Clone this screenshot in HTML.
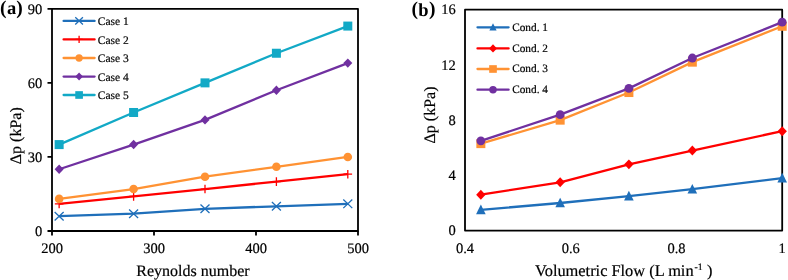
<!DOCTYPE html><html><head><meta charset="utf-8"><style>html,body{margin:0;padding:0;background:#fff;width:788px;height:280px;overflow:hidden}svg{display:block;will-change:transform}text{text-rendering:geometricPrecision;stroke:#000;stroke-width:0.2px;font-family:"Liberation Serif",serif;fill:#000}</style></head><body>
<svg width="788" height="280" viewBox="0 0 788 280">
<path d="M52.0 8.8H358.0V231.0H52.0Z" fill="none" stroke="#000" stroke-width="1.8" stroke-linejoin="round"/>
<path d="M47.5 231.00H52.0M47.5 156.93H52.0M47.5 82.87H52.0M47.5 8.80H52.0M52.00 231.0V235.5M154.00 231.0V235.5M256.00 231.0V235.5M358.00 231.0V235.5" stroke="#000" stroke-width="1.8" fill="none"/>
<text x="42.3" y="235.78" font-size="14.5" text-anchor="end">0</text>
<text x="42.3" y="161.72" font-size="14.5" text-anchor="end">30</text>
<text x="42.3" y="87.65" font-size="14.5" text-anchor="end">60</text>
<text x="42.3" y="13.59" font-size="14.5" text-anchor="end">90</text>
<text x="52.00" y="253" font-size="14.5" text-anchor="middle">200</text>
<text x="154.00" y="253" font-size="14.5" text-anchor="middle">300</text>
<text x="256.00" y="253" font-size="14.5" text-anchor="middle">400</text>
<text x="358.00" y="253" font-size="14.5" text-anchor="middle">500</text>
<text x="193" y="276" font-size="16" text-anchor="middle">Reynolds number</text>
<text transform="translate(20.5 135.7) rotate(-90)" font-size="16" text-anchor="middle">Δp (kPa)</text>
<text y="14.2" font-weight="bold" stroke-width="0" style="stroke:none"><tspan x="0" font-size="19.5">(</tspan><tspan x="7.0" font-size="18.5">a</tspan><tspan x="16.2" font-size="19.5">)</tspan></text>
<polyline points="59.14,216.19 133.60,213.72 205.00,208.78 276.40,206.31 347.80,203.84" fill="none" stroke="#1f6fba" stroke-width="2.3" stroke-linejoin="round"/>
<path d="M54.64 211.91L63.64 220.46M54.64 220.46L63.64 211.91" stroke="#1f6fba" stroke-width="1.3" fill="none"/>
<path d="M129.10 209.44L138.10 217.99M129.10 217.99L138.10 209.44" stroke="#1f6fba" stroke-width="1.3" fill="none"/>
<path d="M200.50 204.50L209.50 213.06M200.50 213.06L209.50 204.50" stroke="#1f6fba" stroke-width="1.3" fill="none"/>
<path d="M271.90 202.04L280.90 210.59M271.90 210.59L280.90 202.04" stroke="#1f6fba" stroke-width="1.3" fill="none"/>
<path d="M343.30 199.57L352.30 208.12M343.30 208.12L352.30 199.57" stroke="#1f6fba" stroke-width="1.3" fill="none"/>
<polyline points="59.14,203.84 133.60,196.44 205.00,189.03 276.40,181.62 347.80,174.22" fill="none" stroke="#ff0000" stroke-width="2.3" stroke-linejoin="round"/>
<path d="M59.14 199.54V208.14M54.84 203.84H63.44" stroke="#ff0000" stroke-width="1.3" fill="none"/>
<path d="M133.60 192.14V200.74M129.30 196.44H137.90" stroke="#ff0000" stroke-width="1.3" fill="none"/>
<path d="M205.00 184.73V193.33M200.70 189.03H209.30" stroke="#ff0000" stroke-width="1.3" fill="none"/>
<path d="M276.40 177.32V185.92M272.10 181.62H280.70" stroke="#ff0000" stroke-width="1.3" fill="none"/>
<path d="M347.80 169.92V178.52M343.50 174.22H352.10" stroke="#ff0000" stroke-width="1.3" fill="none"/>
<polyline points="59.14,198.90 133.60,189.03 205.00,176.68 276.40,166.81 347.80,156.93" fill="none" stroke="#ff9233" stroke-width="2.3" stroke-linejoin="round"/>
<circle cx="59.14" cy="198.90" r="4.30" fill="#ff9233"/>
<circle cx="133.60" cy="189.03" r="4.30" fill="#ff9233"/>
<circle cx="205.00" cy="176.68" r="4.30" fill="#ff9233"/>
<circle cx="276.40" cy="166.81" r="4.30" fill="#ff9233"/>
<circle cx="347.80" cy="156.93" r="4.30" fill="#ff9233"/>
<polyline points="59.14,169.28 133.60,144.59 205.00,119.90 276.40,90.27 347.80,63.12" fill="none" stroke="#7030a0" stroke-width="2.3" stroke-linejoin="round"/>
<path d="M59.14 164.55L63.64 169.28L59.14 174.00L54.64 169.28Z" fill="#7030a0"/>
<path d="M133.60 139.86L138.10 144.59L133.60 149.31L129.10 144.59Z" fill="#7030a0"/>
<path d="M205.00 115.18L209.50 119.90L205.00 124.62L200.50 119.90Z" fill="#7030a0"/>
<path d="M276.40 85.55L280.90 90.27L276.40 95.00L271.90 90.27Z" fill="#7030a0"/>
<path d="M347.80 58.39L352.30 63.12L347.80 67.84L343.30 63.12Z" fill="#7030a0"/>
<polyline points="59.14,144.59 133.60,112.49 205.00,82.87 276.40,53.24 347.80,26.08" fill="none" stroke="#12a9c6" stroke-width="2.3" stroke-linejoin="round"/>
<rect x="54.64" y="140.09" width="9.00" height="9.00" fill="#12a9c6"/>
<rect x="129.10" y="107.99" width="9.00" height="9.00" fill="#12a9c6"/>
<rect x="200.50" y="78.37" width="9.00" height="9.00" fill="#12a9c6"/>
<rect x="271.90" y="48.74" width="9.00" height="9.00" fill="#12a9c6"/>
<rect x="343.30" y="21.58" width="9.00" height="9.00" fill="#12a9c6"/>
<path d="M63.6 20.9H94.6" stroke="#1f6fba" stroke-width="2.3" stroke-linecap="round"/>
<path d="M75.27 17.27L82.92 24.53M75.27 24.53L82.92 17.27" stroke="#1f6fba" stroke-width="1.3" fill="none"/>
<text x="97.8" y="25.10" font-size="11.5">Case 1</text>
<path d="M63.6 39.4H94.6" stroke="#ff0000" stroke-width="2.3" stroke-linecap="round"/>
<path d="M79.10 35.74V43.05M75.44 39.40H82.75" stroke="#ff0000" stroke-width="1.3" fill="none"/>
<text x="97.8" y="43.60" font-size="11.5">Case 2</text>
<path d="M63.6 58.0H94.6" stroke="#ff9233" stroke-width="2.3" stroke-linecap="round"/>
<circle cx="79.10" cy="58.00" r="3.65" fill="#ff9233"/>
<text x="97.8" y="62.20" font-size="11.5">Case 3</text>
<path d="M63.6 76.6H94.6" stroke="#7030a0" stroke-width="2.3" stroke-linecap="round"/>
<path d="M79.10 72.58L82.92 76.60L79.10 80.62L75.27 76.60Z" fill="#7030a0"/>
<text x="97.8" y="80.80" font-size="11.5">Case 4</text>
<path d="M63.6 95.0H94.6" stroke="#12a9c6" stroke-width="2.3" stroke-linecap="round"/>
<rect x="75.27" y="91.17" width="7.65" height="7.65" fill="#12a9c6"/>
<text x="97.8" y="99.20" font-size="11.5">Case 5</text>
<path d="M465.0 9.7H782.2V230.6H465.0Z" fill="none" stroke="#000" stroke-width="1.8" stroke-linejoin="round"/>
<text x="455.7" y="235.38" font-size="14.5" text-anchor="end">0</text>
<text x="455.7" y="180.16" font-size="14.5" text-anchor="end">4</text>
<text x="455.7" y="124.93" font-size="14.5" text-anchor="end">8</text>
<text x="455.7" y="69.71" font-size="14.5" text-anchor="end">12</text>
<text x="455.7" y="14.48" font-size="14.5" text-anchor="end">16</text>
<text x="465.00" y="253" font-size="14.5" text-anchor="middle">0.4</text>
<text x="570.73" y="253" font-size="14.5" text-anchor="middle">0.6</text>
<text x="676.47" y="253" font-size="14.5" text-anchor="middle">0.8</text>
<text x="782.20" y="253" font-size="14.5" text-anchor="middle">1</text>
<text x="535" y="275.5" font-size="16.4" textLength="158.6" lengthAdjust="spacing">Volumetric Flow (L min</text><text x="694.5" y="270.0" font-size="9.8">-1</text><text x="707.1" y="275.5" font-size="16.4">)</text>
<text transform="translate(435 115) rotate(-90)" font-size="16" text-anchor="middle">Δp (kPa)</text>
<text y="15" font-weight="bold" font-size="19.5" style="stroke:none"><tspan x="411.6">(</tspan><tspan x="428.9">)</tspan></text><text x="418.2" y="16" font-weight="bold" font-size="18.5" style="stroke:none">b</text>
<polyline points="480.86,209.89 560.16,202.99 628.89,196.08 692.33,189.18 782.20,178.14" fill="none" stroke="#1f6fba" stroke-width="2.3" stroke-linejoin="round"/>
<path d="M480.86 204.61L485.66 214.21L476.06 214.21Z" fill="#1f6fba"/>
<path d="M560.16 197.71L564.96 207.31L555.36 207.31Z" fill="#1f6fba"/>
<path d="M628.89 190.80L633.69 200.40L624.09 200.40Z" fill="#1f6fba"/>
<path d="M692.33 183.90L697.13 193.50L687.53 193.50Z" fill="#1f6fba"/>
<path d="M782.20 172.86L787.00 182.46L777.40 182.46Z" fill="#1f6fba"/>
<polyline points="480.86,194.70 560.16,182.28 628.89,164.33 692.33,150.52 782.20,131.19" fill="none" stroke="#ff0000" stroke-width="2.3" stroke-linejoin="round"/>
<path d="M480.86 189.77L485.56 194.70L480.86 199.64L476.16 194.70Z" fill="#ff0000"/>
<path d="M560.16 177.34L564.86 182.28L560.16 187.21L555.46 182.28Z" fill="#ff0000"/>
<path d="M628.89 159.39L633.59 164.33L628.89 169.26L624.19 164.33Z" fill="#ff0000"/>
<path d="M692.33 145.59L697.03 150.52L692.33 155.46L687.63 150.52Z" fill="#ff0000"/>
<path d="M782.20 126.26L786.90 131.19L782.20 136.13L777.50 131.19Z" fill="#ff0000"/>
<polyline points="480.86,143.62 560.16,120.15 628.89,92.54 692.33,62.16 782.20,26.27" fill="none" stroke="#ff9233" stroke-width="2.3" stroke-linejoin="round"/>
<rect x="476.36" y="139.12" width="9.00" height="9.00" fill="#ff9233"/>
<rect x="555.66" y="115.65" width="9.00" height="9.00" fill="#ff9233"/>
<rect x="624.39" y="88.04" width="9.00" height="9.00" fill="#ff9233"/>
<rect x="687.83" y="57.66" width="9.00" height="9.00" fill="#ff9233"/>
<rect x="777.70" y="21.77" width="9.00" height="9.00" fill="#ff9233"/>
<polyline points="480.86,140.86 560.16,114.63 628.89,88.40 692.33,58.02 782.20,22.13" fill="none" stroke="#7030a0" stroke-width="2.3" stroke-linejoin="round"/>
<circle cx="480.86" cy="140.86" r="4.40" fill="#7030a0"/>
<circle cx="560.16" cy="114.63" r="4.40" fill="#7030a0"/>
<circle cx="628.89" cy="88.40" r="4.40" fill="#7030a0"/>
<circle cx="692.33" cy="58.02" r="4.40" fill="#7030a0"/>
<circle cx="782.20" cy="22.13" r="4.40" fill="#7030a0"/>
<path d="M477.5 27.3H508.6" stroke="#1f6fba" stroke-width="2.3" stroke-linecap="round"/>
<path d="M493.00 23.34L496.60 30.54L489.40 30.54Z" fill="#1f6fba"/>
<text x="512.2" y="30.60" font-size="11.3">Cond. 1</text>
<path d="M477.5 48.4H508.6" stroke="#ff0000" stroke-width="2.3" stroke-linecap="round"/>
<path d="M493.00 44.21L497.00 48.40L493.00 52.59L489.00 48.40Z" fill="#ff0000"/>
<text x="512.2" y="51.70" font-size="11.3">Cond. 2</text>
<path d="M477.5 69.0H508.6" stroke="#ff9233" stroke-width="2.3" stroke-linecap="round"/>
<rect x="489.18" y="65.17" width="7.65" height="7.65" fill="#ff9233"/>
<text x="512.2" y="72.30" font-size="11.3">Cond. 3</text>
<path d="M477.5 89.7H508.6" stroke="#7030a0" stroke-width="2.3" stroke-linecap="round"/>
<circle cx="493.00" cy="89.70" r="3.74" fill="#7030a0"/>
<text x="512.2" y="93.00" font-size="11.3">Cond. 4</text>
</svg></body></html>
